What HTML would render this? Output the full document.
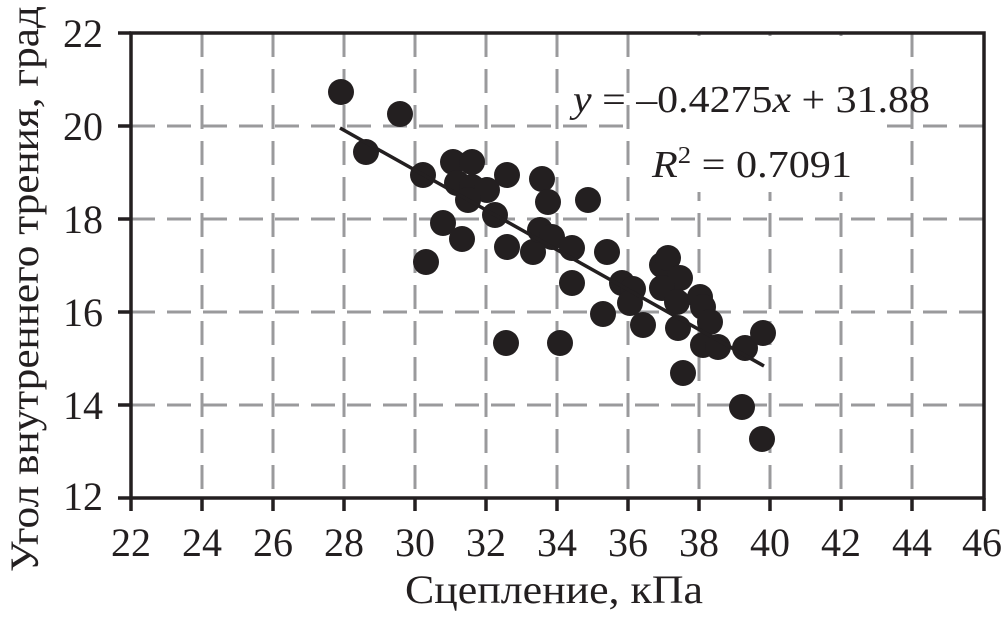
<!DOCTYPE html>
<html><head><meta charset="utf-8"><style>
html,body{margin:0;padding:0;background:#fff}
svg{display:block}
text{font-family:"Liberation Serif",serif;fill:#231f20}
</style></head><body>
<svg width="1002" height="622" viewBox="0 0 1002 622" xmlns="http://www.w3.org/2000/svg">
<g stroke="#9a9a9c" stroke-width="3" stroke-dasharray="24,12" fill="none">
<path d="M131 126H984M131 219H984M131 312H984M131 405H984"/>
<path d="M202 33V498M273 33V498M344 33V498M415 33V498M486 33V498M557 33V498M628 33V498M699 33V498M770 33V498M841 33V498M912 33V498"/>
</g>
<rect x="634" y="36" width="252" height="156" fill="#fff"/>
<g stroke="#231f20" stroke-width="3.5" fill="none">
<rect x="131" y="33" width="853" height="465"/>
<path d="M118 33H131M118 126H131M118 219H131M118 312H131M118 405H131M118 498H131"/>
<path d="M131 498V511M202 498V511M273 498V511M344 498V511M415 498V511M486 498V511M557 498V511M628 498V511M699 498V511M770 498V511M841 498V511M912 498V511M984 498V511"/>
</g>
<g fill="#231f20">
<circle cx="341" cy="92" r="13"/><circle cx="400" cy="114" r="13"/><circle cx="366" cy="152" r="13"/>
<circle cx="423" cy="175" r="13"/><circle cx="453" cy="162" r="13"/><circle cx="472" cy="162" r="13"/>
<circle cx="457" cy="183" r="13"/><circle cx="472" cy="187" r="13"/><circle cx="487" cy="190" r="13"/>
<circle cx="468" cy="200" r="13"/><circle cx="507" cy="175" r="13"/><circle cx="542" cy="179" r="13"/>
<circle cx="548" cy="202" r="13"/><circle cx="588" cy="200" r="13"/><circle cx="495" cy="215" r="13"/>
<circle cx="443" cy="223" r="13"/><circle cx="462" cy="239" r="13"/><circle cx="426" cy="262" r="13"/>
<circle cx="507" cy="247" r="13"/><circle cx="533" cy="252" r="13"/><circle cx="540" cy="230" r="13"/>
<circle cx="552" cy="237" r="13"/><circle cx="572" cy="248" r="13"/><circle cx="607" cy="252" r="13"/>
<circle cx="572" cy="283" r="13"/><circle cx="622" cy="283" r="13"/><circle cx="633" cy="289" r="13"/>
<circle cx="630" cy="303" r="13"/><circle cx="603" cy="314" r="13"/><circle cx="643" cy="325" r="13"/>
<circle cx="506" cy="343" r="13"/><circle cx="560" cy="343" r="13"/>
<circle cx="662" cy="265" r="13"/><circle cx="668" cy="258" r="13"/><circle cx="680" cy="278" r="13"/>
<circle cx="662" cy="288" r="13"/><circle cx="677" cy="302" r="13"/><circle cx="700" cy="297" r="13"/>
<circle cx="703" cy="307" r="13"/><circle cx="678" cy="328" r="13"/><circle cx="710" cy="322" r="13"/>
<circle cx="703" cy="345" r="13"/><circle cx="718" cy="347" r="13"/><circle cx="745" cy="348" r="13"/>
<circle cx="763" cy="333" r="13"/><circle cx="683" cy="373" r="13"/><circle cx="742" cy="407" r="13"/>
<circle cx="762" cy="439" r="13"/>
</g>
<line x1="340" y1="128" x2="764" y2="366" stroke="#231f20" stroke-width="3.5"/>
<text x="573" y="112" font-size="38" textLength="357" lengthAdjust="spacingAndGlyphs"><tspan font-style="italic">y</tspan> = –0.4275<tspan font-style="italic">x</tspan> + 31.88</text>
<text x="652" y="177" font-size="38" textLength="200" lengthAdjust="spacingAndGlyphs"><tspan font-style="italic">R</tspan><tspan font-size="24" dy="-14">2</tspan><tspan dy="14"> = 0.7091</tspan></text>
<g font-size="40" text-anchor="end">
<text x="103" y="47">22</text><text x="103" y="140">20</text><text x="103" y="233">18</text>
<text x="103" y="326">16</text><text x="103" y="419">14</text><text x="103" y="510">12</text>
</g>
<g font-size="40" text-anchor="middle">
<text x="131" y="556">22</text><text x="202" y="556">24</text><text x="273" y="556">26</text>
<text x="344" y="556">28</text><text x="415" y="556">30</text><text x="486" y="556">32</text>
<text x="557" y="556">34</text><text x="628" y="556">36</text><text x="699" y="556">38</text>
<text x="770" y="556">40</text><text x="841" y="556">42</text><text x="912" y="556">44</text>
<text x="982" y="556">46</text>
</g>
<text x="405" y="603" font-size="40" textLength="298" lengthAdjust="spacingAndGlyphs">Сцепление, кПа</text>
<text transform="translate(38,572) rotate(-90)" font-size="40" textLength="566" lengthAdjust="spacingAndGlyphs">Угол внутреннего трения, град</text>
</svg>
</body></html>
